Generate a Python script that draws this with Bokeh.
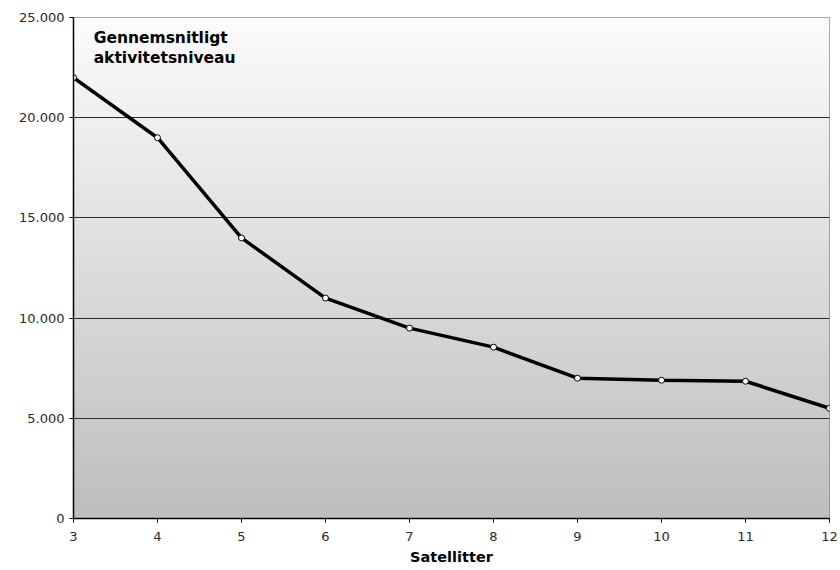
import numpy as np
from bokeh.plotting import figure
from bokeh.models import Range1d, FixedTicker, Label, Title
from bokeh.embed import file_html
from bokeh.resources import INLINE

satellitter = [3, 4, 5, 6, 7, 8, 9, 10, 11, 12]
aktivitet = [22000, 19000, 14000, 11000, 9500, 8550, 7000, 6900, 6850, 5500]
y_ticks = [0, 5000, 10000, 15000, 20000, 25000]
y_tick_labels = ["0", "5.000", "10.000", "15.000", "20.000", "25.000"]
title_text = "Gennemsnitligt\naktivitetsniveau"
x_label = "Satellitter"

FONT = "DejaVu Sans"

p = figure(width=840, height=570, output_backend="svg", toolbar_location=None,
           x_range=Range1d(min(satellitter), max(satellitter)),
           y_range=Range1d(0, max(y_ticks)),
           min_border_left=73, min_border_right=11, min_border_top=17, min_border_bottom=52)

# gradient background
n = 256
t = np.linspace(0, 1, n)  # bottom -> top
top = np.array([252, 252, 252]); bot = np.array([190, 190, 190])
cols = (bot[None, :] + (top - bot)[None, :] * t[:, None]).astype(np.uint32)
img = np.empty((n, 1), dtype=np.uint32)
view = img.view(dtype=np.uint8).reshape((n, 1, 4))
view[:, 0, 0] = cols[:, 0]; view[:, 0, 1] = cols[:, 1]; view[:, 0, 2] = cols[:, 2]; view[:, 0, 3] = 255
bg = p.image_rgba(image=[img], x=min(satellitter), y=0, dw=max(satellitter) - min(satellitter), dh=max(y_ticks))
bg.level = "image"

p.outline_line_color = "#8a8a8a"
p.background_fill_color = "white"
p.border_fill_color = "white"

p.xgrid.grid_line_color = None
p.ygrid.grid_line_color = "#2a2a2a"
p.ygrid.grid_line_width = 1
p.ygrid.level = "underlay"

p.xaxis.ticker = FixedTicker(ticks=satellitter)
p.yaxis.ticker = FixedTicker(ticks=y_ticks)
p.yaxis.major_label_overrides = {v: s for v, s in zip(y_ticks, y_tick_labels)}
for ax in (p.xaxis, p.yaxis):
    ax.axis_line_color = "black"
    ax.axis_line_width = 1.5
    ax.major_tick_line_color = "black"
    ax.major_tick_in = 0
    ax.major_tick_out = 4
    ax.minor_tick_line_color = None
    ax.major_label_text_font = FONT
    ax.major_label_text_font_size = "13px"
    ax.major_label_text_color = "#2a2a2a"
p.yaxis.major_label_standoff = 5
p.xaxis.major_label_standoff = 9

p.line(satellitter, aktivitet, line_color="black", line_width=3.5)
p.scatter(satellitter, aktivitet, size=6, fill_color="white", line_color="black", line_width=1)

lab = Label(x=3.24, y=24450, text=title_text, text_font=FONT, text_font_style="bold",
            text_font_size="15.5px", text_color="black", text_baseline="top", text_line_height=1.15)
p.add_layout(lab)

xl = Title(text=x_label, align="center", text_font=FONT, text_font_style="bold",
           text_font_size="14.5px", text_color="black", standoff=7, offset=0)
p.add_layout(xl, "below")

open("out.html", "w").write(file_html(p, INLINE))
